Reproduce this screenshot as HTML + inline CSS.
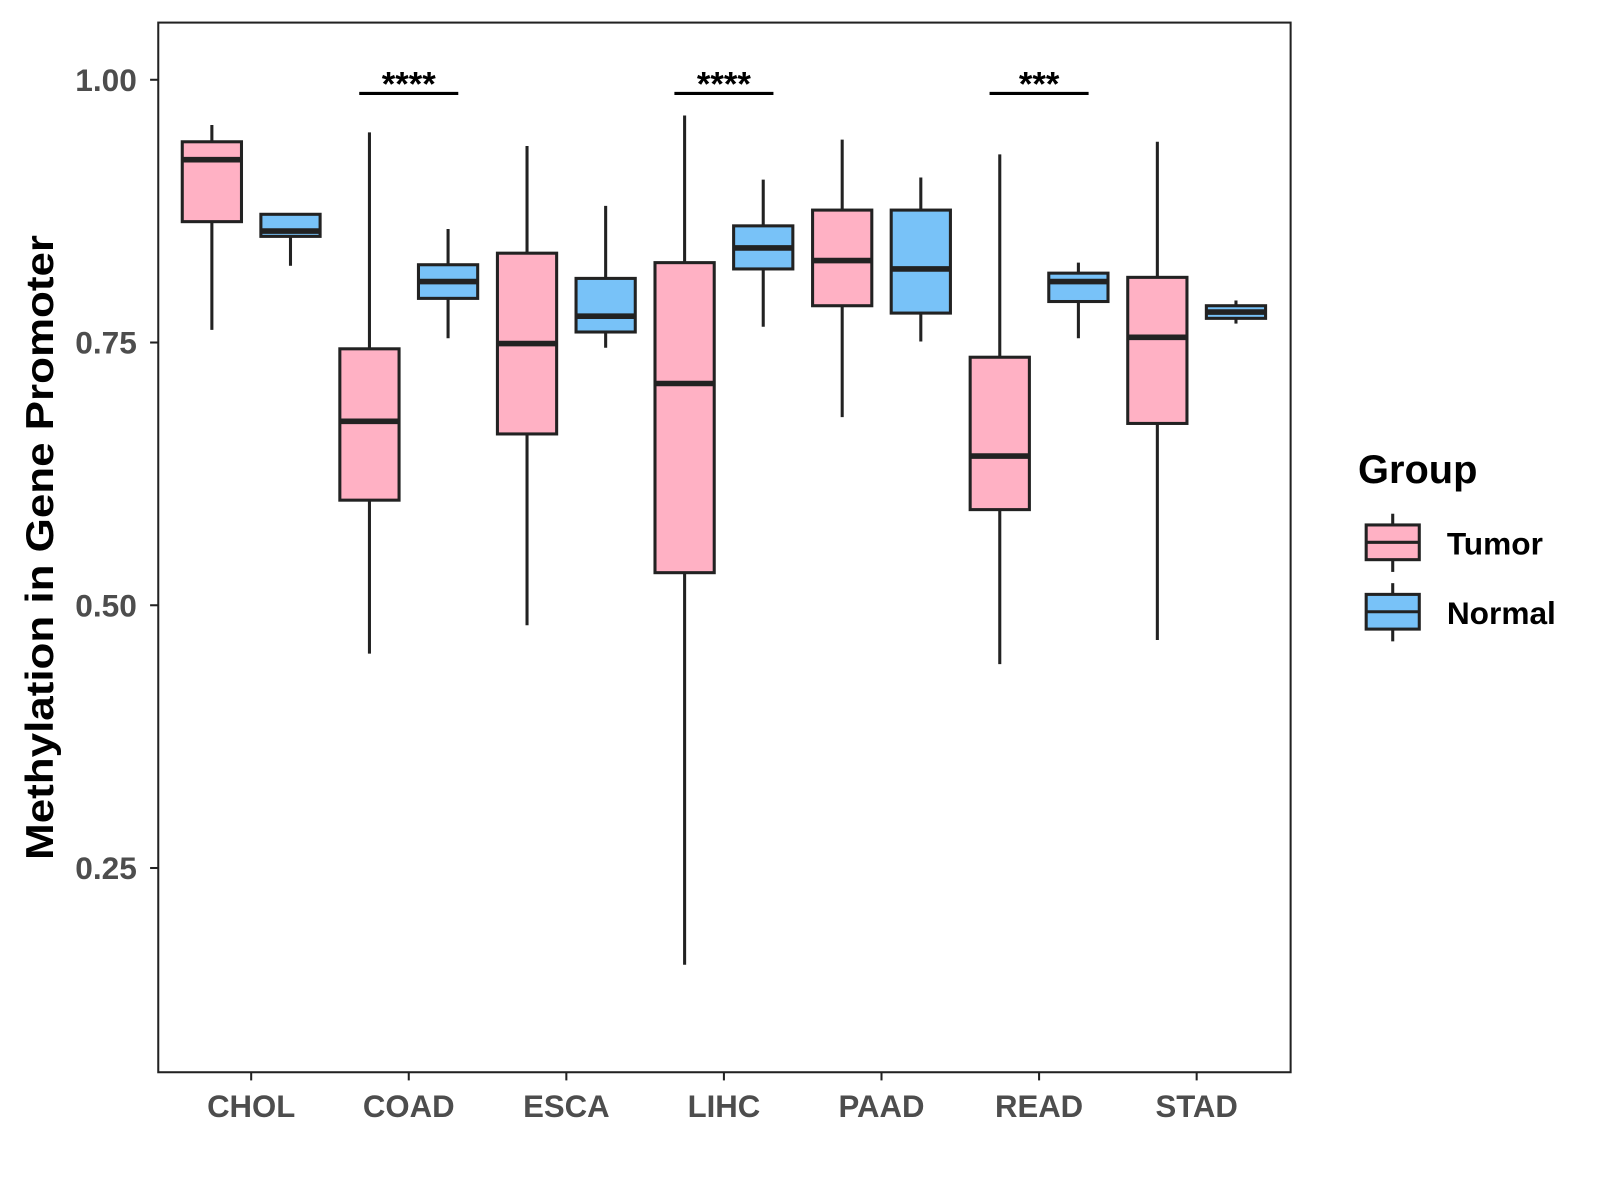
<!DOCTYPE html>
<html><head><meta charset="utf-8"><style>
html,body{margin:0;padding:0;background:#fff;}
svg{display:block;font-family:"Liberation Sans",Arial,sans-serif;}
</style></head><body>
<svg id="chart" width="1600" height="1200" viewBox="0 0 1567 1175">
<rect x="155" y="22" width="1109" height="1028" fill="#fff" stroke="#222" stroke-width="2"/>
<g id="marks"></g>
<text transform="translate(52,536) rotate(-90)" text-anchor="middle" font-size="38" font-weight="bold" fill="#000" textLength="612" lengthAdjust="spacingAndGlyphs">Methylation in Gene Promoter</text>
<g>
<text x="1330" y="473" font-size="39" font-weight="bold" fill="#000">Group</text>
<g>
<line x1="1364" y1="503" x2="1364" y2="560" stroke="#222" stroke-width="3"/>
<rect x="1338" y="514" width="52" height="34" fill="#FFB1C4" stroke="#222" stroke-width="3"/>
<line x1="1338" y1="531" x2="1390" y2="531" stroke="#222" stroke-width="3"/>
<text x="1417" y="543" font-size="31" font-weight="bold" fill="#000">Tumor</text>
</g>
<g>
<line x1="1364" y1="571" x2="1364" y2="628" stroke="#222" stroke-width="3"/>
<rect x="1338" y="582" width="52" height="34" fill="#78C2F8" stroke="#222" stroke-width="3"/>
<line x1="1338" y1="599" x2="1390" y2="599" stroke="#222" stroke-width="3"/>
<text x="1417" y="611" font-size="31" font-weight="bold" fill="#000">Normal</text>
</g>
</g>
</svg>
<script>
const categories = ["CHOL","COAD","ESCA","LIHC","PAAD","READ","STAD"];
// [low, q1, median, q3, high]
const tumorStats = [
 [0.762,0.865,0.924,0.941,0.957],
 [0.454,0.600,0.675,0.744,0.950],
 [0.481,0.663,0.749,0.835,0.937],
 [0.158,0.531,0.711,0.826,0.966],
 [0.679,0.785,0.828,0.876,0.943],
 [0.444,0.591,0.642,0.736,0.929],
 [0.467,0.673,0.755,0.812,0.941]
];
const normalStats = [
 [0.823,0.851,0.856,0.872,0.872],
 [0.754,0.792,0.808,0.824,0.858],
 [0.745,0.760,0.775,0.811,0.880],
 [0.765,0.820,0.840,0.861,0.905],
 [0.751,0.778,0.820,0.876,0.907],
 [0.754,0.789,0.808,0.816,0.826],
 [0.768,0.773,0.779,0.785,0.790]
];
const yTicks = [0.25,0.50,0.75,1.00];
const yTickLabels = ["0.25","0.50","0.75","1.00"];
const sigCategories = ["COAD","LIHC","READ"];
const sigLabels = ["****","****","***"];
const sigLevel = 0.987;

const NS="http://www.w3.org/2000/svg";
const g=document.getElementById('marks');
function y(v){return 78+(1-v)*1029.3;}
function x(i){return 246+i*154.33;}
function mk(tag,attrs,parent){const e=document.createElementNS(NS,tag);for(const k in attrs)e.setAttribute(k,attrs[k]);(parent||g).appendChild(e);return e;}

yTicks.forEach((t,i)=>{
  const tk=mk('line',{x1:147,x2:155,y1:y(t),y2:y(t),stroke:'#222','stroke-width':2});
  
  
  const tl=mk('text',{x:134,y:y(t)+11,'text-anchor':'end','font-size':31,'font-weight':'bold',fill:'#4d4d4d'});
  tl.textContent=yTickLabels[i];
  
  
});
categories.forEach((c,i)=>{
  const tk=mk('line',{x1:x(i),x2:x(i),y1:1050,y2:1058,stroke:'#222','stroke-width':2});
  
  
  const tl=mk('text',{x:x(i),y:1094,'text-anchor':'middle','font-size':30.5,'font-weight':'bold',fill:'#4d4d4d'});
  tl.textContent=c;
  
  
});
function box(cx,s,fill,name){
  const grp=mk('g',{});
  
  
  const w=58;
  mk('line',{x1:cx,x2:cx,y1:y(s[4]),y2:y(s[0]),stroke:'#222','stroke-width':3},grp);
  mk('rect',{x:cx-w/2,y:y(s[3]),width:w,height:Math.max(1,y(s[1])-y(s[3])),fill:fill,stroke:'#222','stroke-width':3},grp);
  mk('line',{x1:cx-w/2,x2:cx+w/2,y1:y(s[2]),y2:y(s[2]),stroke:'#222','stroke-width':5.5},grp);
}
categories.forEach((c,i)=>{
  box(x(i)-38.5,tumorStats[i],'#FFB1C4','box-tumor-'+c.toLowerCase());
  box(x(i)+38.5,normalStats[i],'#78C2F8','box-normal-'+c.toLowerCase());
});
sigCategories.forEach((c,k)=>{
  const i=categories.indexOf(c);
  const l=mk('line',{x1:x(i)-48.5,x2:x(i)+48.5,y1:y(sigLevel),y2:y(sigLevel),stroke:'#000','stroke-width':3});
  
  
  const t=mk('text',{x:x(i),y:y(sigLevel)+2,'text-anchor':'middle','font-size':34,'font-weight':'bold',fill:'#000'});
  t.textContent=sigLabels[k];
  
  
});
</script>
</body></html>
